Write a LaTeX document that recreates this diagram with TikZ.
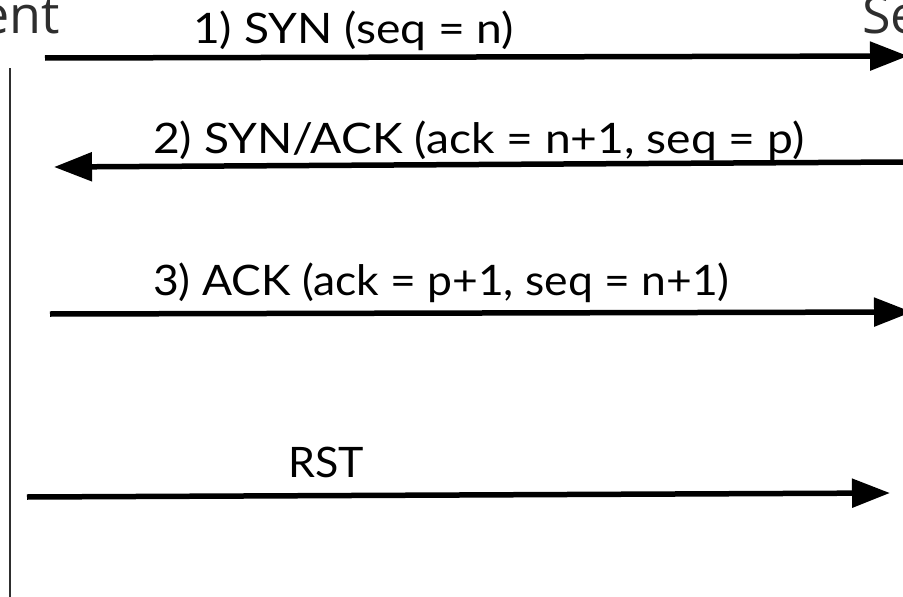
\documentclass[tikz,border=0pt]{standalone}
\usepackage{fontspec}
\setmainfont{Lato}[FakeStretch=1.1]
\newfontfamily\endfont{Open Sans}
\usetikzlibrary{arrows.meta}
\definecolor{endgray}{HTML}{2E2E2E}
\tikzset{
  msg/.style={line width=5.5pt, -{Triangle[length=38pt,width=28pt]}},
  lbl/.style={anchor=base west, inner sep=0pt, font=\fontsize{42}{48}\selectfont},
  endlbl/.style={inner sep=0pt, text=endgray, font=\endfont\fontsize{52}{58}\selectfont},
  lifeline/.style={line width=2pt, draw=endgray}
}
\begin{document}
\begin{tikzpicture}[x=1pt,y=1pt]
  \useasboundingbox (0,0) rectangle (903,-597);
  \clip (0,0) rectangle (903,-597);
  % end point titles, partly outside the frame
  \node[endlbl, anchor=base east] (client) at (60,-33) {Client};
  \node[endlbl, anchor=base west] (server) at (862,-33) {Server};
  % client lifeline
  \coordinate (ltop) at (9.5,-68);
  \coordinate (lbot) at (9.5,-600);
  \draw[lifeline] (ltop) -- (lbot);
  % message end points
  \coordinate (a1) at (45,-58);
  \coordinate (b1) at (908,-56);
  \coordinate (a2) at (903,-162);
  \coordinate (b2) at (54,-167);
  \coordinate (a3) at (50,-314);
  \coordinate (b3) at (912,-312);
  \coordinate (a4) at (27,-497);
  \coordinate (b4) at (890,-493);
  \draw[msg] (a1) -- (b1);
  \draw[msg] (a2) -- (b2);
  \draw[msg] (a3) -- (b3);
  \draw[msg] (a4) -- (b4);
  % message labels
  \node[lbl] (m1) at (193,-43) {1) SYN (seq = n)};
  \node[lbl] (m2) at (153,-153) {2) SYN/ACK (ack = n+1, seq = p)};
  \node[lbl] (m3) at (153,-295) {\scalebox{0.962}[1]{3) ACK (ack = p+1, seq = n+1)}};
  \node[lbl] (m4) at (288,-477) {\scalebox{0.93}[1]{RST}};
\end{tikzpicture}
\end{document}
